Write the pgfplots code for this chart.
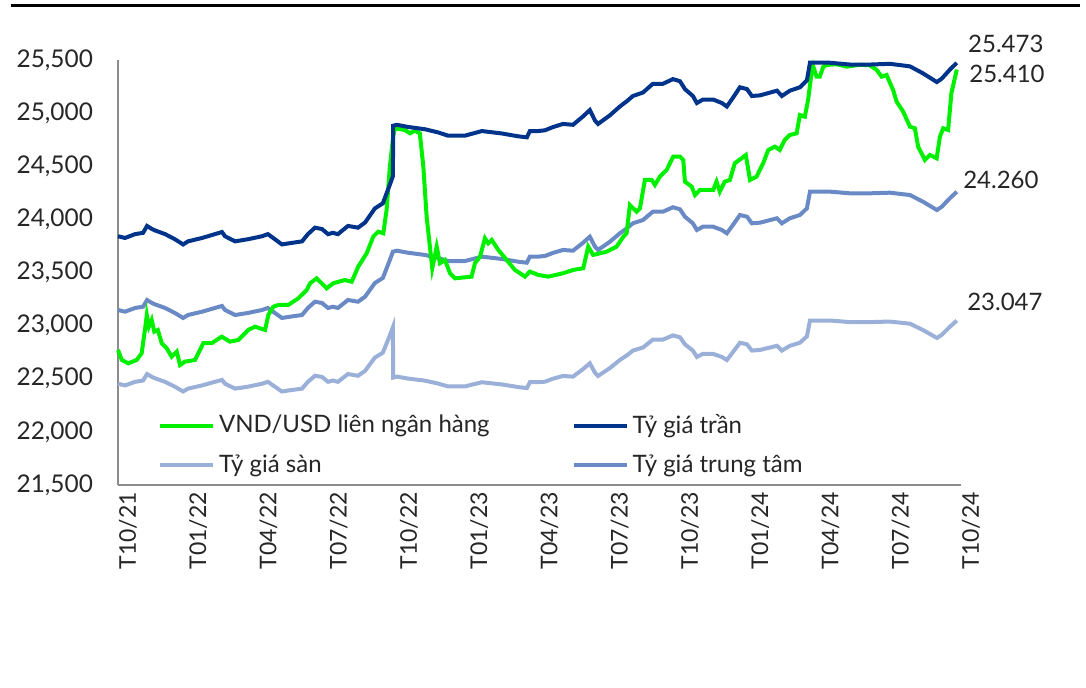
\documentclass[border=0pt]{standalone}
\usepackage{pgfplots}
\pgfplotsset{compat=1.18}
\usepackage{fontspec}
\setmainfont{Lato}

\definecolor{ibank}{HTML}{00F000}
\definecolor{ceil}{HTML}{00338A}
\definecolor{mid}{HTML}{6A8AC5}
\definecolor{floorc}{HTML}{9BB0D8}
\definecolor{axgray}{HTML}{8C8C8C}
\definecolor{txt}{HTML}{262626}

\begin{document}
\begin{tikzpicture}
\useasboundingbox (0,0) rectangle (543pt,344pt);
\draw[black, line width=1.5pt] (5.5pt,341pt) -- (540pt,341pt);
\begin{axis}[
    at={(59pt,101.5pt)}, anchor=south west,
    scale only axis, width=421.5pt, height=212.5pt,
    xmin=0, xmax=36, ymin=21500, ymax=25500,
    axis lines*=left,
    axis line style={draw=axgray, line width=0.9pt},
    major tick length=0pt,
    clip=false,
    scaled y ticks=false,
    xtick={0,3,...,36},
    xticklabels={T10/21,T01/22,T04/22,T07/22,T10/22,T01/23,T04/23,T07/23,T10/23,T01/24,T04/24,T07/24,T10/24},
    xticklabel style={rotate=90, anchor=east, yshift=-5pt, font=\fontsize{11.5}{13}\selectfont, text=txt},
    ytick={21500,22000,...,25500},
    yticklabel style={xshift=-9pt, font=\fontsize{12.2}{14}\selectfont, text=txt},
    /pgf/number format/1000 sep={,},
    /pgf/number format/assume math mode=true,
    legend columns=2,
    legend cell align=left,
    legend image code/.code={\draw[#1] (0pt,0pt) -- (26.5pt,0pt);},
    legend style={at={(0.047,0.176)}, anchor=north west, draw=none, fill=none,
        inner sep=0pt, row sep=5pt, font=\fontsize{12}{14}\selectfont, text=txt,
        /tikz/every even column/.append style={column sep=39pt}},
]

\addlegendimage{ibank, line width=2pt}
\addlegendentry{VND/USD liên ngân hàng}
\addlegendimage{ceil, line width=2pt}
\addlegendentry{Tỷ giá trần}
\addlegendimage{floorc, line width=2pt}
\addlegendentry{Tỷ giá sàn}
\addlegendimage{mid, line width=2pt}
\addlegendentry{Tỷ giá trung tâm}

% Ty gia san
\addplot[floorc, line width=2pt, forget plot] coordinates {
(0,22453)(0.30,22437)(0.73,22471)(1.07,22483)(1.24,22544)(1.45,22517)(1.58,22504)(2.01,22471)(2.43,22425)(2.78,22380)(2.99,22407)(3.59,22437)(4.14,22471)(4.44,22489)(4.57,22453)(5.00,22407)(5.55,22425)(6.15,22453)(6.40,22471)(6.70,22425)(7.00,22380)(7.26,22389)(7.86,22407)(8.11,22471)(8.41,22528)(8.71,22517)(8.97,22471)(9.18,22483)(9.39,22471)(9.82,22544)(10.25,22528)(10.55,22574)(10.97,22699)(11.31,22745)(11.61,22909)(11.74,22985)(11.75,22511)(11.91,22520)(12.38,22502)(13.11,22482)(13.66,22455)(14.09,22428)(14.82,22428)(15.54,22467)(16.40,22446)(17.08,22422)(17.46,22412)(17.59,22467)(17.93,22467)(18.23,22472)(18.57,22500)(19.00,22526)(19.43,22520)(19.85,22589)(20.15,22645)(20.37,22556)(20.50,22526)(21.01,22601)(21.43,22676)(21.73,22720)(21.99,22765)(22.42,22794)(22.84,22868)(23.27,22868)(23.70,22908)(24.00,22890)(24.21,22824)(24.55,22765)(24.72,22705)(24.98,22734)(25.41,22734)(25.79,22705)(26.00,22676)(26.26,22750)(26.56,22839)(26.86,22824)(27.07,22765)(27.42,22771)(28.14,22810)(28.35,22765)(28.69,22810)(29.12,22839)(29.42,22899)(29.55,23048)(29.76,23048)(30.40,23048)(31.26,23033)(32.11,23033)(32.96,23038)(33.82,23018)(34.37,22959)(34.97,22884)(35.18,22913)(35.52,22988)(35.82,23047)
};

% Ty gia trung tam
\addplot[mid, line width=2pt, forget plot] coordinates {
(0,23147)(0.30,23131)(0.73,23166)(1.07,23178)(1.24,23241)(1.45,23213)(1.58,23200)(2.01,23166)(2.43,23119)(2.78,23072)(2.99,23100)(3.59,23131)(4.14,23166)(4.44,23185)(4.57,23147)(5.00,23100)(5.55,23119)(6.15,23147)(6.40,23166)(6.70,23119)(7.00,23072)(7.26,23081)(7.86,23100)(8.11,23166)(8.41,23225)(8.71,23213)(8.97,23166)(9.18,23178)(9.39,23166)(9.82,23241)(10.25,23225)(10.55,23272)(10.97,23401)(11.31,23448)(11.61,23618)(11.74,23696)(11.91,23705)(12.38,23686)(13.11,23665)(13.66,23637)(14.09,23608)(14.82,23608)(15.54,23649)(16.40,23627)(17.08,23602)(17.46,23592)(17.59,23649)(17.93,23649)(18.23,23655)(18.57,23684)(19.00,23712)(19.43,23705)(19.85,23778)(20.15,23837)(20.37,23743)(20.50,23712)(21.01,23790)(21.43,23869)(21.73,23916)(21.99,23963)(22.42,23994)(22.84,24072)(23.27,24072)(23.70,24114)(24.00,24095)(24.21,24025)(24.55,23963)(24.72,23900)(24.98,23931)(25.41,23931)(25.79,23900)(26.00,23869)(26.26,23947)(26.56,24041)(26.86,24025)(27.07,23963)(27.42,23969)(28.14,24010)(28.35,23963)(28.69,24010)(29.12,24041)(29.42,24104)(29.55,24261)(29.76,24261)(30.40,24261)(31.26,24245)(32.11,24245)(32.96,24251)(33.82,24229)(34.37,24167)(34.97,24088)(35.18,24119)(35.52,24198)(35.82,24260)
};

% VND/USD lien ngan hang
\addplot[ibank, line width=2pt, forget plot] coordinates {
(0,22771)(0.16,22677)(0.44,22645)(0.80,22677)(1.01,22740)(1.15,22959)(1.23,23100)(1.32,22990)(1.44,23053)(1.55,22943)(1.70,22959)(1.87,22834)(2.08,22787)(2.29,22708)(2.51,22755)(2.65,22629)(2.86,22661)(3.29,22677)(3.64,22834)(4.00,22834)(4.43,22896)(4.78,22849)(5.14,22865)(5.56,22959)(5.85,22990)(6.28,22959)(6.42,23100)(6.63,23178)(6.84,23194)(7.27,23194)(7.70,23257)(8.06,23335)(8.20,23398)(8.48,23445)(8.63,23413)(8.91,23351)(9.19,23398)(9.27,23404)(9.69,23429)(9.98,23413)(10.26,23555)(10.62,23681)(10.90,23837)(11.11,23884)(11.33,23869)(11.47,24088)(11.61,24496)(11.75,24778)(11.83,24857)(12.25,24841)(12.47,24810)(12.68,24835)(12.89,24810)(13.04,24496)(13.18,24025)(13.32,23743)(13.42,23540)(13.61,23743)(13.75,23587)(13.96,23618)(14.18,23493)(14.39,23445)(15.10,23461)(15.24,23587)(15.46,23649)(15.67,23822)(15.81,23775)(15.96,23806)(16.24,23712)(16.60,23618)(16.95,23524)(17.38,23461)(17.59,23508)(17.95,23477)(18.37,23461)(19.01,23493)(19.44,23524)(19.87,23540)(20.08,23743)(20.29,23665)(20.87,23696)(21.29,23743)(21.58,23837)(21.72,23869)(21.86,24135)(22.15,24072)(22.29,24104)(22.50,24371)(22.79,24371)(22.93,24324)(23.14,24402)(23.43,24465)(23.71,24590)(24.00,24590)(24.14,24559)(24.21,24355)(24.50,24308)(24.64,24229)(24.85,24277)(25.42,24277)(25.56,24355)(25.70,24261)(25.91,24355)(26.13,24371)(26.34,24528)(26.63,24575)(26.81,24606)(26.99,24371)(27.27,24402)(27.55,24528)(27.77,24653)(28.05,24684)(28.26,24653)(28.47,24747)(28.69,24794)(28.98,24810)(29.12,24982)(29.33,24966)(29.47,25124)(29.62,25380)(29.69,25440)(29.83,25343)(29.97,25343)(30.12,25437)(30.26,25453)(30.69,25460)(31.11,25437)(31.68,25455)(32.11,25450)(32.40,25406)(32.61,25343)(32.82,25359)(33.10,25218)(33.25,25108)(33.53,25014)(33.82,24872)(34.03,24857)(34.17,24684)(34.46,24559)(34.67,24606)(34.96,24575)(35.10,24778)(35.24,24857)(35.45,24841)(35.59,25187)(35.82,25410)
};

% Ty gia tran
\addplot[ceil, line width=2pt, forget plot] coordinates {
(0,23841)(0.30,23825)(0.73,23861)(1.07,23873)(1.24,23938)(1.45,23909)(1.58,23896)(2.01,23861)(2.43,23813)(2.78,23764)(2.99,23793)(3.59,23825)(4.14,23861)(4.44,23881)(4.57,23841)(5.00,23793)(5.55,23813)(6.15,23841)(6.40,23861)(6.70,23813)(7.00,23764)(7.26,23773)(7.86,23793)(8.11,23861)(8.41,23922)(8.71,23909)(8.97,23861)(9.18,23873)(9.39,23861)(9.82,23938)(10.25,23922)(10.55,23970)(10.97,24103)(11.31,24151)(11.61,24327)(11.74,24407)(11.75,24881)(11.91,24890)(12.38,24870)(13.11,24848)(13.66,24819)(14.09,24788)(14.82,24788)(15.54,24831)(16.40,24808)(17.08,24782)(17.46,24772)(17.59,24831)(17.93,24831)(18.23,24838)(18.57,24868)(19.00,24898)(19.43,24890)(19.85,24967)(20.15,25029)(20.37,24930)(20.50,24898)(21.01,24980)(21.43,25062)(21.73,25112)(21.99,25161)(22.42,25194)(22.84,25276)(23.27,25276)(23.70,25320)(24.00,25300)(24.21,25226)(24.55,25161)(24.72,25095)(24.98,25128)(25.41,25128)(25.79,25095)(26.00,25062)(26.26,25144)(26.56,25243)(26.86,25226)(27.07,25161)(27.42,25167)(28.14,25211)(28.35,25161)(28.69,25211)(29.12,25243)(29.42,25309)(29.55,25474)(29.76,25474)(30.40,25474)(31.26,25457)(32.11,25457)(32.96,25464)(33.82,25440)(34.37,25375)(34.97,25292)(35.18,25325)(35.52,25408)(35.82,25473)
};

% end labels
\node[anchor=west, inner sep=0pt, text=txt, font=\fontsize{12}{14}\selectfont] at (axis cs:36.29,25651) {25.473};
\node[anchor=west, inner sep=0pt, text=txt, font=\fontsize{12}{14}\selectfont] at (axis cs:36.34,25368) {25.410};
\node[anchor=west, inner sep=0pt, text=txt, font=\fontsize{12}{14}\selectfont] at (axis cs:36.08,24371) {24.260};
\node[anchor=west, inner sep=0pt, text=txt, font=\fontsize{12}{14}\selectfont] at (axis cs:36.25,23222) {23.047};

\end{axis}
\end{tikzpicture}
\end{document}
